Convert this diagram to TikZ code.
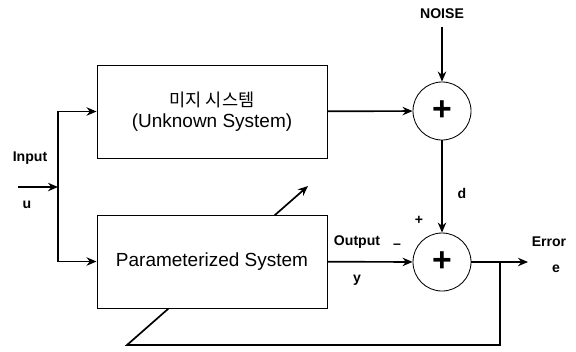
\documentclass[tikz,border=0pt]{standalone}
\usepackage{fontspec}
\setmainfont{Liberation Sans}
\newfontfamily\kofont{Noto Sans CJK KR}
\usetikzlibrary{arrows.meta,backgrounds}
\tikzset{>={Stealth[length=2.5mm,width=2.1mm]}}

\begin{document}
\begin{tikzpicture}[x=0.025cm, y=-0.025cm,
		system/.style={rectangle, draw=black, semithick, fill=white, minimum width=5.75cm, minimum height=2.325cm, align=center, font=\fontsize{13.5}{15}\selectfont},
		sum/.style={circle, draw=black, semithick, fill=white, minimum size=1.45cm, inner sep=0pt, font=\fontsize{24}{24}\selectfont\bfseries},
		tag/.style={inner sep=1pt, font=\fontsize{10}{12}\selectfont\bfseries},
		wire/.style={black, very thick}]
		\useasboundingbox (0,0) rectangle (576,351);
		\node[system] (1) at (212,111.5) {{\kofont\fontsize{12.5}{15}\selectfont 미지 시스템}\\(Unknown System)};
		\node[system] (2) at (212,261.5) {Parameterized System};
		\node[sum] (3) at (442,111) {+};
		\node[sum] (4) at (442,262) {+};
		\node[tag] (5) at (442,14) {NOISE};
		\coordinate (6) at (18,187);
		\coordinate (7) at (58,187);
		\coordinate (8) at (500,262);
		\coordinate (9) at (528,262);
		\coordinate (10) at (127,345);
		\coordinate (11) at (308,186);
		\node[tag] (12) at (30,158) {Input};
		\node[tag] (13) at (27,205) {u};
		\node[tag] (14) at (357,242) {Output};
		\node[tag] (15) at (357,280) {y};
		\node[tag] (16) at (397,246) {–};
		\node[tag] (17) at (419,220) {+};
		\node[tag] (18) at (462,193) {d};
		\node[tag] (19) at (549,242) {Error};
		\node[tag] (20) at (556,269) {e};
		
		\draw[wire,->] (6) -- (7);
		\draw[wire,->] (7) |- (1.west);
		\draw[wire,->] (7) |- (2.west);
		\draw[wire,->] (1) -- (3);
		\draw[wire,->,shorten <=1.5mm] (5) -- (3);
		\draw[wire,->] (3) -- (4);
		\draw[wire,->] (2) -- (4);
		\draw[wire,->] (4) -- (9);
		\begin{scope}[on background layer]
			\draw[wire,->] (8) |- (10) -- (11);
		\end{scope}
		
	\end{tikzpicture}
\end{document}
